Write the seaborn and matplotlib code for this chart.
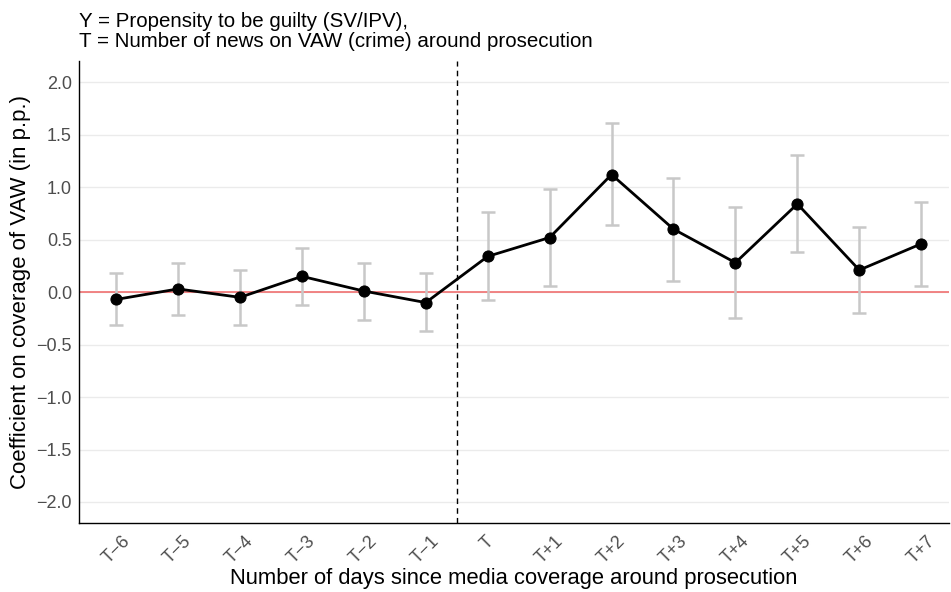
import pandas as pd
import matplotlib
matplotlib.use('Agg')
import matplotlib.pyplot as plt
import seaborn as sns

# Data
labels = ['T\u22126', 'T\u22125', 'T\u22124', 'T\u22123', 'T\u22122', 'T\u22121', 'T',
          'T+1', 'T+2', 'T+3', 'T+4', 'T+5', 'T+6', 'T+7']
coef = [-0.07, 0.03, -0.05, 0.15, 0.01, -0.10, 0.34,
        0.52, 1.12, 0.60, 0.28, 0.84, 0.21, 0.46]
ci_low = [-0.31, -0.22, -0.31, -0.12, -0.27, -0.37, -0.08,
          0.06, 0.64, 0.11, -0.25, 0.38, -0.20, 0.06]
ci_high = [0.18, 0.28, 0.21, 0.42, 0.28, 0.18, 0.76,
           0.98, 1.61, 1.09, 0.81, 1.31, 0.62, 0.86]

data = pd.DataFrame({'pos': range(len(labels)), 'label': labels,
                     'coef': coef, 'lo': ci_low, 'hi': ci_high})

sns.set_style('whitegrid')
plt.rcParams['font.family'] = ['Liberation Sans', 'DejaVu Sans']

fig = plt.figure(figsize=(9.51, 5.92), dpi=100)
ax = fig.add_axes([0.083, 0.1166, 0.915, 0.780])

# Confidence intervals
ax.errorbar(data['pos'], data['coef'],
            yerr=[data['coef'] - data['lo'], data['hi'] - data['coef']],
            fmt='none', ecolor='#c8c8c8', elinewidth=1.8, capsize=5, capthick=1.8, zorder=2)

ax.axhline(0, color='#f07070', linewidth=1.2, zorder=1)
ax.axvline(5.5, color='black', linestyle=(0, (4, 3)), linewidth=1.0, zorder=1)

sns.lineplot(data=data, x='pos', y='coef', color='black', linewidth=2,
             marker='o', markersize=8, markeredgecolor='black', ax=ax, zorder=3)

ax.set_xlim(-0.6, 13.45)
ax.set_ylim(-2.2, 2.2)
ax.set_yticks([-2.0, -1.5, -1.0, -0.5, 0.0, 0.5, 1.0, 1.5, 2.0])
ax.set_yticklabels([f'{v:.1f}'.replace('-', '\u2212') for v in ax.get_yticks()])
ax.set_xticks(data['pos'])
ax.set_xticklabels(data['label'], rotation=45, ha='center')

ax.grid(axis='x', visible=False)
ax.grid(axis='y', color='#ebebeb', linewidth=1)
for side in ['top', 'right']:
    ax.spines[side].set_visible(False)
for side in ['left', 'bottom']:
    ax.spines[side].set_color('black')
    ax.spines[side].set_linewidth(1.0)

ax.tick_params(axis='both', colors='#4d4d4d', labelsize=13, length=0)
ax.tick_params(axis='x', pad=7)
ax.tick_params(axis='y', pad=5)

ax.set_xlabel('Number of days since media coverage around prosecution', fontsize=15.8,
              color='black', labelpad=1)
ax.set_ylabel('Coefficient on coverage of VAW (in p.p.)', fontsize=16, color='black',
              labelpad=4)
ax.set_title('Y = Propensity to be guilty (SV/IPV),\nT = Number of news on VAW (crime) around prosecution',
             loc='left', fontsize=14.8, color='black', linespacing=1.1, pad=10)

fig.savefig('out.png', dpi=100)
